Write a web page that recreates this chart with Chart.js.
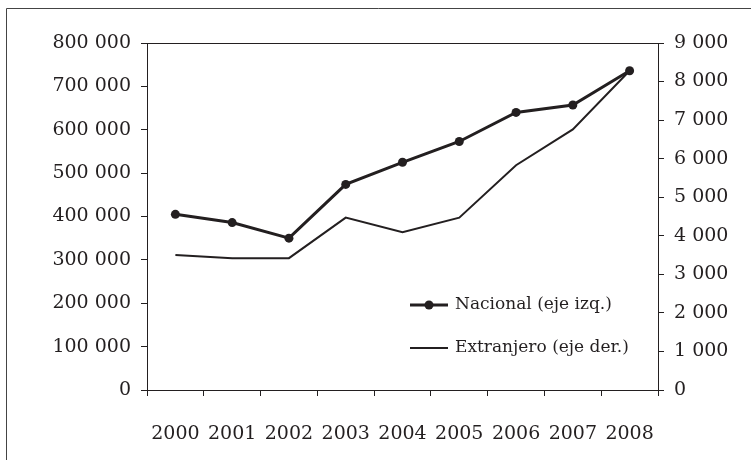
<!DOCTYPE html>
<html>
<head>
<meta charset="utf-8">
<script src="https://cdn.jsdelivr.net/npm/chart.js@4/dist/chart.umd.min.js"></script>
<style>
  html, body { margin: 0; padding: 0; background: #fff; }
  #wrap { width: 751px; height: 460px; }
</style>
</head>
<body>
<div id="wrap"><canvas id="grafico" width="751" height="460"></canvas></div>
<script>
// datos
const anios       = ["2000", "2001", "2002", "2003", "2004", "2005", "2006", "2007", "2008"];
const nacional    = [405000, 386000, 350000, 474000, 525000, 573000, 640000, 657000, 736000];
const extranjero  = [3500, 3420, 3420, 4470, 4090, 4470, 5830, 6760, 8280];
const etiquetas   = ["Nacional (eje izq.)", "Extranjero (eje der.)"];

const TINTA  = "#231f20";
const FUENTE = "'DejaVu Serif', 'Liberation Serif', serif";

const miles = v => String(v).replace(/\B(?=(\d{3})+(?!\d))/g, " ");

// marco exterior (solo borde izq. y superior) + línea superior del área
const marco = {
  id: "marco",
  beforeDraw(chart) {
    const ctx = chart.ctx;
    const a = chart.chartArea;
    ctx.save();
    ctx.strokeStyle = "#444";
    ctx.lineWidth = 1;
    ctx.beginPath();
    ctx.moveTo(6.5, 460);
    ctx.lineTo(6.5, 8.5);
    ctx.lineTo(751, 8.5);
    ctx.stroke();
    ctx.strokeStyle = TINTA;
    ctx.beginPath();
    ctx.moveTo(a.left, Math.round(a.top) + 0.5);
    ctx.lineTo(a.right, Math.round(a.top) + 0.5);
    ctx.stroke();
    ctx.restore();
  }
};

// leyenda dentro del área del gráfico
const leyenda = {
  id: "leyenda",
  afterDraw(chart) {
    const ctx = chart.ctx;
    const a = chart.chartArea;
    const x0 = a.left + 263;
    const y0 = a.top + 262;
    ctx.save();
    ctx.font = "17px " + FUENTE;
    ctx.textBaseline = "middle";
    ctx.fillStyle = TINTA;
    chart.data.datasets.forEach((ds, i) => {
      const y = y0 + i * 43;
      ctx.strokeStyle = ds.borderColor;
      ctx.lineWidth = ds.borderWidth;
      ctx.beginPath();
      ctx.moveTo(x0, y);
      ctx.lineTo(x0 + 38, y);
      ctx.stroke();
      if (ds.pointRadius > 0) {
        ctx.beginPath();
        ctx.arc(x0 + 19, y, ds.pointRadius, 0, Math.PI * 2);
        ctx.fill();
      }
      ctx.fillText(etiquetas[i], x0 + 45, y);
    });
    ctx.restore();
  }
};

new Chart(document.getElementById("grafico"), {
  type: "line",
  data: {
    labels: anios,
    datasets: [
      {
        label: etiquetas[0],
        data: nacional,
        yAxisID: "yIzq",
        borderColor: TINTA,
        backgroundColor: TINTA,
        borderWidth: 3,
        pointRadius: 4.5,
        pointBackgroundColor: TINTA,
        pointBorderWidth: 0,
        tension: 0
      },
      {
        label: etiquetas[1],
        data: extranjero,
        yAxisID: "yDer",
        borderColor: TINTA,
        backgroundColor: TINTA,
        borderWidth: 2,
        pointRadius: 0,
        tension: 0
      }
    ]
  },
  options: {
    responsive: false,
    animation: false,
    devicePixelRatio: 1,
    layout: { padding: { top: 43, left: 0, right: 0, bottom: 0 } },
    plugins: {
      legend: { display: false },
      tooltip: { enabled: false }
    },
    scales: {
      x: {
        type: "category",
        offset: true,
        grid: { offset: true, drawOnChartArea: false, tickLength: 6, color: TINTA, tickWidth: 1 },
        border: { color: TINTA, width: 1 },
        ticks: { color: TINTA, font: { family: FUENTE, size: 19 }, padding: 27, maxRotation: 0, autoSkip: false },
        afterFit: s => { s.height = 70; }
      },
      yIzq: {
        position: "left",
        min: 0,
        max: 800000,
        grid: { drawOnChartArea: false, tickLength: 6, color: TINTA },
        border: { color: TINTA, width: 1 },
        ticks: { stepSize: 100000, color: TINTA, font: { family: FUENTE, size: 19 }, padding: 10, callback: v => miles(v) },
        afterFit: s => { s.width = 147; }
      },
      yDer: {
        position: "right",
        min: 0,
        max: 9000,
        grid: { drawOnChartArea: false, tickLength: 6, color: TINTA },
        border: { color: TINTA, width: 1 },
        ticks: { stepSize: 1000, color: TINTA, font: { family: FUENTE, size: 19 }, padding: 10, callback: v => miles(v) },
        afterFit: s => { s.width = 93; }
      }
    }
  },
  plugins: [marco, leyenda]
});
</script>
</body>
</html>
